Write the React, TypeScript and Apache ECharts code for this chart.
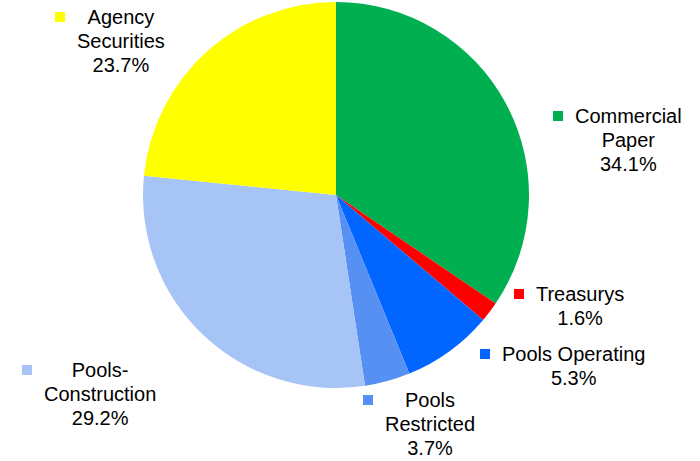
import React, { useEffect, useRef } from "react";
import * as echarts from "echarts";

// Slice order: clockwise from 12 o'clock
const categories = [
  "Commercial Paper",
  "Treasurys",
  "Pools Operating",
  "Pools Restricted",
  "Pools-Construction",
  "Agency Securities",
];
// Slice shares as drawn in the picture (percent of the circle)
const sliceValues = [34.5, 1.7, 7.6, 3.8, 29.0, 23.4];
// Percentages printed in the labels
const shownPercents = ["34.1%", "1.6%", "5.3%", "3.7%", "29.2%", "23.7%"];
// Label line breaks as printed
const labelLines = [
  ["Commercial", "Paper"],
  ["Treasurys"],
  ["Pools Operating"],
  ["Pools", "Restricted"],
  ["Pools-", "Construction"],
  ["Agency", "Securities"],
];

const sliceColors = ["#00B050", "#FF0000", "#0066FF", "#5790F3", "#A6C4F6", "#FFFF00"];
const markerColors = ["#00B050", "#FF0000", "#0066FF", "#5790F3", "#A6C4F6", "#FFFF00"];
// label anchor: marker left x, block middle y
const labelAnchors = [
  [553, 140],
  [514, 306],
  [480, 366],
  [363, 424],
  [22, 394],
  [55, 41],
];

export default function App() {
  const ref = useRef<HTMLDivElement>(null);
  useEffect(() => {
    document.body.style.margin = "0";
    const chart = echarts.init(ref.current!, undefined, { renderer: "svg" });
    const rich: any = {
      g: { width: 12, height: 10, align: "left", lineHeight: 24 },
      s: { width: 22, height: 10, align: "left", lineHeight: 24 },
      t: {
        fontSize: 20,
        fontFamily: "Liberation Sans, Arial, sans-serif",
        color: "#000",
        align: "center",
        lineHeight: 24,
      },
    };
    markerColors.forEach((c, i) => {
      rich["m" + i] = { width: 10, height: 10, backgroundColor: c, align: "left", lineHeight: 24 };
    });
    const data = categories.map((name, i) => ({
      name,
      value: sliceValues[i],
      itemStyle: { color: sliceColors[i] },
    }));
    chart.setOption({
      animation: false,
      series: [
        {
          type: "pie",
          center: [336, 195],
          radius: [0, 193],
          startAngle: 90,
          clockwise: true,
          data,
          itemStyle: { borderWidth: 0 },
          emphasis: { disabled: true },
          labelLine: { show: false, length: 0, length2: 0 },
          label: {
            show: true,
            position: "outside",
            rich,
            lineHeight: 24,
            formatter: (p: any) => {
              const i = p.dataIndex;
              const lines = labelLines[i].concat([shownPercents[i]]);
              return lines
                .map((l, k) => (k === 0 ? `{m${i}|}{g|}` : "{s|}") + `{t|${l}}`)
                .join("\n");
            },
          },
          labelLayout: (params: any) => {
            const a = labelAnchors[params.dataIndex];
            return { x: a[0], y: a[1], align: "left", verticalAlign: "middle" };
          },
        },
      ],
    });
    return () => chart.dispose();
  }, []);
  return <div ref={ref} style={{ width: 700, height: 461 }} />;
}
